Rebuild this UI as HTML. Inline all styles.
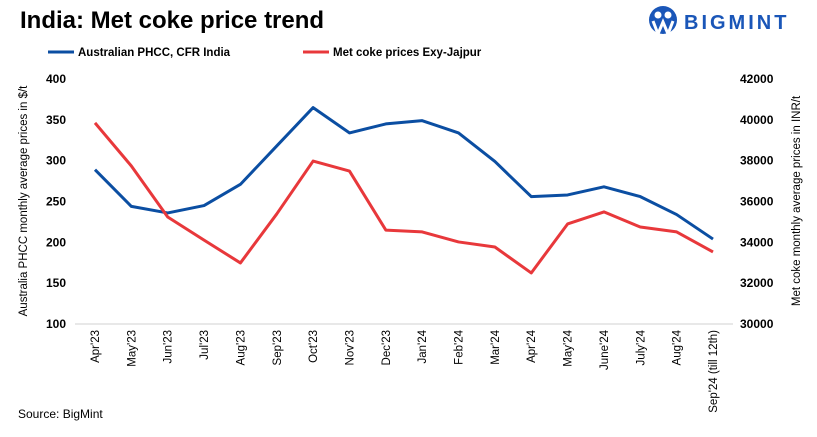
<!DOCTYPE html>
<html><head><meta charset="utf-8"><style>
body{margin:0;background:#fff;width:817px;height:432px;overflow:hidden;font-family:"Liberation Sans",sans-serif}
svg text{font-family:"Liberation Sans",sans-serif}
</style></head><body>
<svg id="chart" width="817" height="432">
<text x="20" y="28" font-size="24" font-weight="bold" fill="#000">India: Met coke price trend</text>
<g>
<circle cx="663" cy="20" r="14" fill="#1a56b8"/>
<circle cx="658" cy="15" r="3.5" fill="#fff"/><circle cx="668" cy="15" r="3.5" fill="#fff"/>
<path d="M653 21 L658 34 L663 22 L668 34 L673 21" stroke="#fff" stroke-width="3" fill="none"/>
<text x="684" y="29" font-size="20" font-weight="bold" fill="#1a56b8" letter-spacing="3">BIGMINT</text>
</g>
<g>
<line x1="48" y1="52" x2="74" y2="52" stroke="#0b4ea2" stroke-width="3"/>
<text x="78" y="56" font-size="11.5" font-weight="bold" fill="#000">Australian PHCC, CFR India</text>
<line x1="303" y1="52" x2="329" y2="52" stroke="#e8383b" stroke-width="3"/>
<text x="333" y="56" font-size="11.5" font-weight="bold" fill="#000">Met coke prices Exy-Jajpur</text>
</g>
<text transform="translate(27,201) rotate(-90)" text-anchor="middle" font-size="11.5" fill="#000">Australia PHCC monthly average prices in $/t</text>
<text transform="translate(800,201) rotate(-90)" text-anchor="middle" font-size="11.5" fill="#000">Met coke monthly average prices in INR/t</text>
<text x="18" y="418" font-size="12" fill="#000">Source: BigMint</text>
<g id="plot"></g>
</svg>
<script>
const categories=["Apr'23","May'23","Jun'23","Jul'23","Aug'23","Sep'23","Oct'23","Nov'23","Dec'23","Jan'24","Feb'24","Mar'24","Apr'24","May'24","June'24","July'24","Aug'24","Sep'24 (till 12th)"];
const phccValues=[289,244,236,245,271,318,365,334,345,349,334,299,256,258,268,256,234,204];
const metCokeValues=[39850,37740,35240,34110,32990,35390,37980,37490,34600,34510,34020,33770,32500,34900,35490,34750,34510,33530];
const leftTicks=[100,150,200,250,300,350,400];
const rightTicks=[30000,32000,34000,36000,38000,40000,42000];
const NS="http://www.w3.org/2000/svg";
const plotG=document.getElementById('plot');
const x0=95,plotTop=79,plotBot=324;
const step=(713-95)/(categories.length-1);
const xs=i=>x0+i*step;
const yl=v=>plotBot-(v-100)/300*(plotBot-plotTop);
const yr=v=>plotBot-(v-30000)/12000*(plotBot-plotTop);
function mk(t,a){const e=document.createElementNS(NS,t);for(const k in a)e.setAttribute(k,a[k]);plotG.appendChild(e);return e;}
const ax=mk('line',{x1:75,y1:plotBot,x2:733,y2:plotBot,stroke:'#d0d0d0','stroke-width':1});


leftTicks.forEach(v=>{const t=mk('text',{x:66,y:yl(v)+4,'text-anchor':'end','font-size':12,'font-weight':'bold',fill:'#000'});t.textContent=v;

});
rightTicks.forEach(v=>{const t=mk('text',{x:740,y:yr(v)+4,'font-size':12,'font-weight':'bold',fill:'#000'});t.textContent=v;

});
categories.forEach((c,i)=>{const t=mk('text',{transform:`translate(${xs(i)+4},330) rotate(-90)`,'text-anchor':'end','font-size':11.5,fill:'#000'});t.textContent=c;

});
const p1=mk('polyline',{points:phccValues.map((v,i)=>xs(i)+','+yl(v)).join(' '),fill:'none',stroke:'#0b4ea2','stroke-width':3,'stroke-linejoin':'round'});


const p2=mk('polyline',{points:metCokeValues.map((v,i)=>xs(i)+','+yr(v)).join(' '),fill:'none',stroke:'#e8383b','stroke-width':3,'stroke-linejoin':'round'});


</script>
</body></html>
